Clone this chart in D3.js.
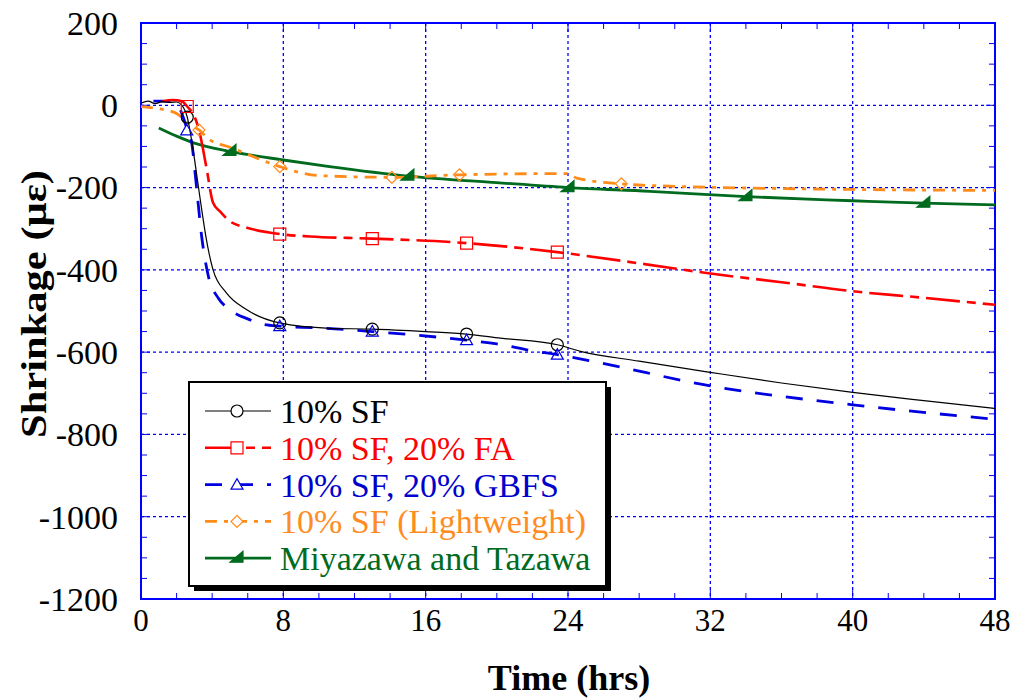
<!DOCTYPE html>
<html>
<head>
<meta charset="utf-8">
<script src="https://cdn.jsdelivr.net/npm/d3@7"></script>
</head>
<body style="margin:0">
<script>
// --- data (time in hrs, shrinkage in microstrain) ---
const sfTime = [0, 0.4, 0.8, 1.2, 1.6, 2.0, 2.3, 2.6, 2.9, 3.2, 3.4, 3.65, 4.05, 4.8, 5.95, 7.8, 10.6, 13, 16, 18.3, 20.2, 23.4, 24.7, 28, 32, 36, 40, 44, 48];
const sfStrain = [5, 10, 4, 9, 7, 8, 0, -29, -100, -190, -250, -320, -400, -456, -497, -529, -542, -544, -550, -556, -566, -582, -598, -622, -649, -675, -698, -718, -737];
const sfMarkTime = [2.6, 7.8, 13, 18.3, 23.4];
const sfMarkStrain = [-29, -529, -544, -556, -582];

const faTime = [1.2, 1.8, 2.3, 2.6, 3.0, 3.3, 3.5, 3.7, 4.05, 4.44, 5.0, 6.0, 7.8, 9.5, 13, 18.3, 23.4, 28.3, 32, 36, 40, 44, 48];
const faStrain = [10, 13, 10, -3, -27, -67, -110, -157, -237, -258, -282, -298, -313, -319, -324, -335, -357, -386, -409, -430, -452, -468, -485];
const faMarkTime = [2.6, 7.8, 13, 18.3, 23.4];
const faMarkStrain = [-3, -313, -324, -335, -357];

const gbfsTime = [0.7, 1.2, 1.8, 2.2, 2.57, 2.85, 3.1, 3.41, 3.79, 4.35, 5.0, 6.1, 6.7, 7.8, 9.9, 13, 18.3, 20, 21.9, 23.4, 25.8, 32, 40, 48];
const gbfsStrain = [10, 10, 8, -10, -55, -91, -190, -319, -416, -469, -497, -521, -531, -537, -541, -550, -571, -580, -596, -606, -626, -682, -728, -763];
const gbfsMarkTime = [2.57, 7.8, 13, 18.3, 23.4];
const gbfsMarkStrain = [-61, -537, -550, -571, -606];

const lwTime = [0, 1.07, 2.0, 2.75, 3.26, 3.8, 5.0, 7.8, 8.9, 10.06, 14.1, 17.9, 23.9, 24.5, 27, 30, 34, 38.9, 44, 48];
const lwStrain = [-3, -9, -20, -47, -60, -82, -102, -149, -163, -171, -175, -169, -166, -177, -191, -197, -201, -204, -206, -207];
const lwMarkTime = [3.26, 7.8, 14.1, 17.9, 27];
const lwMarkStrain = [-60, -149, -175, -169, -191];

const mtTime = [1, 2, 3, 5, 8, 10.6, 15, 20, 24, 28.6, 34, 40, 44, 48];
const mtStrain = [-55, -75, -92, -112, -133, -149, -172, -188, -200, -209, -222, -232, -238, -242];
const mtMarkTime = [5, 15, 24, 34, 44];
const mtMarkStrain = [-112, -172, -200, -222, -238];

const xTicks = [0, 8, 16, 24, 32, 40, 48];
const yTicks = [200, 0, -200, -400, -600, -800, -1000, -1200];
const legendLabels = ["10% SF", "10% SF, 20% FA", "10% SF, 20% GBFS", "10% SF (Lightweight)", "Miyazawa and Tazawa"];

// --- layout ---
const svg = d3.select("body").append("svg")
    .attr("id", "fig")
    .attr("width", 1014)
    .attr("height", 700);
const plotLeft = 141, plotRight = 995, plotTop = 23, plotBottom = 599;
const serif = "Liberation Serif";

const x = d3.scaleLinear().domain([0, 48]).range([plotLeft, plotRight]);
const y = d3.scaleLinear().domain([-1200, 200]).range([plotBottom, plotTop]);

const frameColor = "#0000ff";

// grid
const grid = svg.append("g");
grid.selectAll("line.gx")
    .data(xTicks.slice(1, -1))
    .join("line")
    .attr("x1", d => x(d)).attr("x2", d => x(d))
    .attr("y1", plotTop).attr("y2", plotBottom)
    .attr("stroke", frameColor)
    .attr("stroke-width", 1.3)
    .attr("stroke-dasharray", "3,3");
grid.selectAll("line.gy")
    .data(yTicks.slice(1, -1))
    .join("line")
    .attr("x1", plotLeft).attr("x2", plotRight)
    .attr("y1", d => y(d)).attr("y2", d => y(d))
    .attr("stroke", frameColor)
    .attr("stroke-width", 1.3)
    .attr("stroke-dasharray", "3,3");

// ticks on all four sides, pointing inward
const tickLen = 6;
const xMinor = d3.range(0, 48.01, 2);
const yMinor = d3.range(-1200, 200.01, 50);
const ticks = svg.append("g").attr("stroke", frameColor).attr("stroke-width", 1);
xMinor.forEach(t => {
    const len = t % 8 === 0 ? tickLen + 3 : tickLen;
    ticks.append("line").attr("x1", x(t)).attr("x2", x(t)).attr("y1", plotBottom).attr("y2", plotBottom - len);
    ticks.append("line").attr("x1", x(t)).attr("x2", x(t)).attr("y1", plotTop).attr("y2", plotTop + len);
});
yMinor.forEach(v => {
    const len = v % 200 === 0 ? tickLen + 3 : tickLen;
    ticks.append("line").attr("x1", plotLeft).attr("x2", plotLeft + len).attr("y1", y(v)).attr("y2", y(v));
    ticks.append("line").attr("x1", plotRight).attr("x2", plotRight - len).attr("y1", y(v)).attr("y2", y(v));
});

svg.append("rect")
    .attr("x", plotLeft).attr("y", plotTop)
    .attr("width", plotRight - plotLeft).attr("height", plotBottom - plotTop)
    .attr("fill", "none")
    .attr("stroke", frameColor)
    .attr("stroke-width", 2);

// tick labels
svg.append("g").selectAll("text")
    .data(xTicks)
    .join("text")
    .style("font-family", serif)
    .attr("x", d => x(d))
    .attr("y", 631)
    .attr("text-anchor", "middle")
    .attr("font-size", 31)
    .attr("fill", "#000")
    .text(d => d);

svg.append("g").selectAll("text")
    .data(yTicks)
    .join("text")
    .style("font-family", serif)
    .attr("x", 118)
    .attr("y", d => y(d))
    .attr("dy", "0.35em")
    .attr("text-anchor", "end")
    .attr("font-size", 34)
    .attr("fill", "#000")
    .text(d => d);

// axis titles
svg.append("text")
    .style("font-family", serif)
    .attr("x", 569)
    .attr("y", 690)
    .attr("text-anchor", "middle")
    .attr("font-size", 36)
    .attr("font-weight", "bold")
    .text("Time (hrs)");

svg.append("text")
    .style("font-family", serif)
    .attr("transform", "translate(46,304) rotate(-90)")
    .attr("text-anchor", "middle")
    .attr("font-size", 36)
    .attr("font-weight", "bold")
    .attr("textLength", 268)
    .attr("lengthAdjust", "spacingAndGlyphs")
    .text("Shrinkage (με)");

// --- series ---
const zip = (ts, vs) => ts.map((t, i) => [t, vs[i]]);
const line = d3.line().x(d => x(d[0])).y(d => y(d[1])).curve(d3.curveMonotoneX);

svg.append("clipPath").attr("id", "plotClip")
    .append("rect").attr("x", plotLeft).attr("y", plotTop)
    .attr("width", plotRight - plotLeft).attr("height", plotBottom - plotTop);

const triPath = "M-6,4.5L6,4.5L0,-6Z";
const greenTri = "M-7,4L6,4L6,-7Z";
const series = [
    { time: sfTime, strain: sfStrain, mt: sfMarkTime, ms: sfMarkStrain, color: "#000000", width: 1.2, dash: null,
      marker: d3.symbol(d3.symbolCircle, 113)(), fill: "none", rot: 0, textColor: "#000000" },
    { time: faTime, strain: faStrain, mt: faMarkTime, ms: faMarkStrain, color: "#ff0000", width: 2.6, dash: "34,7,9,7",
      marker: d3.symbol(d3.symbolSquare, 144)(), fill: "none", rot: 0, textColor: "#ff0000" },
    { time: gbfsTime, strain: gbfsStrain, mt: gbfsMarkTime, ms: gbfsMarkStrain, color: "#0000e0", width: 2.8, dash: "17,14",
      marker: triPath, fill: "none", rot: 0, textColor: "#0000cc" },
    { time: lwTime, strain: lwStrain, mt: lwMarkTime, ms: lwMarkStrain, color: "#ff8c1a", width: 2.8, dash: "12,7,4,7",
      marker: d3.symbol(d3.symbolSquare, 72)(), fill: "none", rot: 45, textColor: "#ff8c22" },
    { time: mtTime, strain: mtStrain, mt: mtMarkTime, ms: mtMarkStrain, color: "#006b1e", width: 2.8, dash: null,
      marker: greenTri, fill: "#006b1e", rot: 0, textColor: "#006b1e" }
];

const plot = svg.append("g").attr("clip-path", "url(#plotClip)");
series.slice().reverse().forEach(s => {
    plot.append("path")
        .datum(zip(s.time, s.strain))
        .attr("d", line)
        .attr("fill", "none")
        .attr("stroke", s.color)
        .attr("stroke-width", s.width)
        .attr("stroke-dasharray", s.dash);
});
series.forEach(s => {
    plot.append("g").selectAll("path")
        .data(zip(s.mt, s.ms))
        .join("path")
        .attr("d", s.marker)
        .attr("transform", d => `translate(${x(d[0])},${y(d[1])}) rotate(${s.rot})`)
        .attr("fill", s.fill)
        .attr("stroke", s.color)
        .attr("stroke-width", 1.2);
});

// --- legend ---
const lg = { x: 189, y: 382, w: 417, h: 204 };
svg.append("rect")
    .attr("x", lg.x + 5).attr("y", lg.y + 5)
    .attr("width", lg.w).attr("height", lg.h)
    .attr("fill", "#000");
svg.append("rect")
    .attr("x", lg.x).attr("y", lg.y)
    .attr("width", lg.w).attr("height", lg.h)
    .attr("fill", "#fff")
    .attr("stroke", "#000")
    .attr("stroke-width", 2);

series.forEach((s, i) => {
    const base = 423 + i * 36.8;
    const my = base - 12;
    svg.append("line")
        .attr("x1", 205).attr("x2", 271)
        .attr("y1", my).attr("y2", my)
        .attr("stroke", s.color)
        .attr("stroke-width", s.width)
        .attr("stroke-dasharray", s.dash);
    svg.append("path")
        .attr("d", s.marker)
        .attr("transform", `translate(237,${my}) rotate(${s.rot})`)
        .attr("fill", s.fill === "none" ? "#fff" : s.fill)
        .attr("stroke", s.color)
        .attr("stroke-width", 1.2);
    svg.append("text")
        .style("font-family", serif)
        .attr("x", 280)
        .attr("y", base)
        .attr("font-size", 34)
        .attr("fill", s.textColor)
        .text(legendLabels[i]);
});
</script>
</body>
</html>
